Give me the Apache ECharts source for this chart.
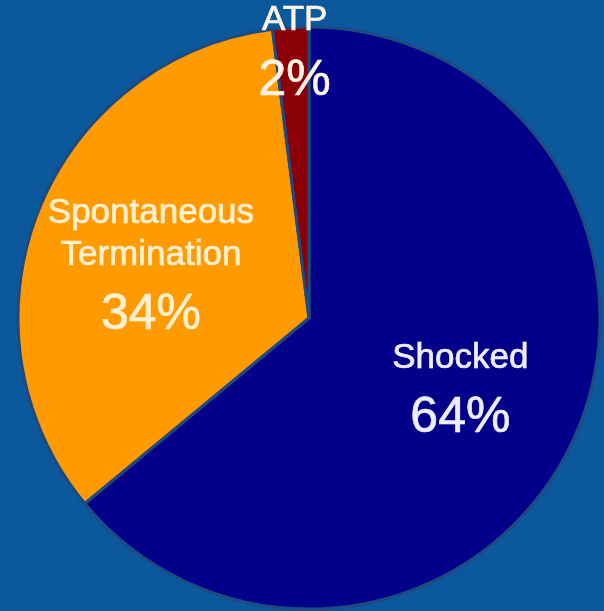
<!DOCTYPE html>
<html lang="en" style="height: 100%">
<head>
  <meta charset="utf-8">
</head>
<body style="height: 100%; margin: 0; background: #0b589c">
  <div id="container" style="width: 604px; height: 611px"></div>

  <script type="text/javascript" src="https://fastly.jsdelivr.net/npm/echarts@6.0.0/dist/echarts.min.js"></script>
  <script type="text/javascript">
	//chart data
	var categories = ['Shocked', 'Spontaneous\nTermination', 'ATP'];
	var values = [64, 34, 2];
	var sliceColors = ['#03008a', '#ff9a00', '#8a0006'];
	var labelColors = ['#eeeeff', '#fff0d2', '#fff4e4'];

	var dom = document.getElementById('container');
	var myChart = echarts.init(dom, null, {
      renderer: 'canvas',
      useDirtyRect: false
    });

	var pieData = categories.map((name, i) => ({
		name: name,
		value: values[i],
		itemStyle: { color: sliceColors[i] },
		label: { color: labelColors[i], textBorderColor: labelColors[i], textBorderWidth: 0.7 }
	}));

	var option = {
		backgroundColor: '#0b589c',
		animation: false,
		series: [{
			type: 'pie',
			center: [309, 318],
			radius: 291,
			startAngle: 90,
			clockwise: true,
			data: pieData,
			itemStyle: { borderColor: '#1d4a80', borderWidth: 3 },
			label: {
				position: 'inside',
				fontFamily: 'Liberation Sans',
				formatter: '{b|{b}}\n{p|{d}%}',
				rich: {
					b: { fontSize: 35, lineHeight: 42, fontFamily: 'Liberation Sans' },
					p: { fontSize: 50, lineHeight: 78, fontFamily: 'Liberation Sans' }
				}
			},
			labelLine: { show: false },
			//ATP label sits up by the rim, the others stay inside their slices
			labelLayout: function (params) {
				if (params.dataIndex === 2) return { dy: -110, dx: -5 };
				if (params.dataIndex === 1) return { dx: -20, dy: 10 };
				return { dx: 17, dy: 16 };
			}
		}]
	};
	myChart.setOption(option);

    window.addEventListener('resize', myChart.resize);
  </script>
</body>
</html>
